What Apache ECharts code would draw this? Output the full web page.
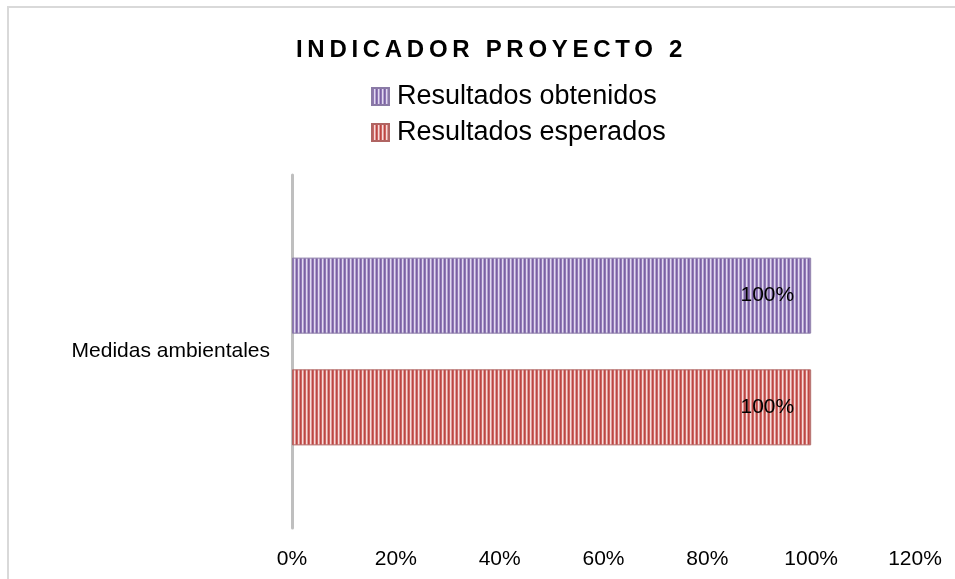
<!DOCTYPE html>
<html>
<head>
<meta charset="utf-8">
<script src="https://cdn.jsdelivr.net/npm/echarts@6/dist/echarts.min.js"></script>
<style>
  html, body { margin: 0; padding: 0; background: #fff; }
  #chart { width: 955px; height: 579px; }
</style>
</head>
<body>
<div id="chart"></div>
<script>
var titleText = "INDICADOR PROYECTO 2";
var categories = ["Medidas ambientales"];
var obtenidos = [1.0];
var esperados = [1.0];
var xTicks = ["0%", "20%", "40%", "60%", "80%", "100%", "120%"];

// the original title is letter-spaced; canvas can do that, echarts can't
var origFillText = CanvasRenderingContext2D.prototype.fillText;
CanvasRenderingContext2D.prototype.fillText = function (txt) {
  if (txt === titleText && "letterSpacing" in this) {
    var old = this.letterSpacing;
    this.letterSpacing = "4.7px";
    origFillText.apply(this, arguments);
    this.letterSpacing = old;
    return;
  }
  return origFillText.apply(this, arguments);
};

// vertical stripe fill like the excel pattern
function stripes(cols) {
  var c = document.createElement("canvas");
  c.width = cols.length;
  c.height = 4;
  var ctx = c.getContext("2d");
  cols.forEach(function (col, i) {
    ctx.fillStyle = col;
    ctx.fillRect(i, 0, 1, 4);
  });
  return { image: c, repeat: "repeat" };
}
var purpleFill = stripes(["#7a61a2", "#9079b6", "#e2daef", "#b3a1d0"]);
var redFill = stripes(["#bb4643", "#cd6764", "#f5dcdb", "#e09896"]);

var myChart = echarts.init(document.getElementById("chart"));
var font = "Liberation Sans";
var pct = function (v) { return Math.round(v * 100) + "%"; };

myChart.setOption({
  backgroundColor: "#fff",
  animation: false,
  title: {
    text: titleText,
    left: 291,
    top: 33,
    textStyle: { fontFamily: font, fontSize: 24, fontWeight: "bold", color: "#000" }
  },
  legend: {
    orient: "vertical",
    left: 371,
    top: 83,
    padding: 0,
    icon: "rect",
    itemWidth: 17,
    itemHeight: 17,
    itemGap: 9,
    data: ["Resultados obtenidos", "Resultados esperados"],
    textStyle: { fontFamily: font, fontSize: 27, lineHeight: 27, color: "#000", padding: [0, 0, 0, 3] }
  },
  graphic: [{
    type: "rect",
    shape: { x: 8, y: 7, width: 1000, height: 700 },
    style: { fill: "none", stroke: "#d9d9d9", lineWidth: 2 },
    silent: true
  }],
  grid: { left: 292, right: 40, top: 175, bottom: 51 },
  xAxis: {
    type: "value",
    min: 0,
    max: 1.2,
    interval: 0.2,
    axisLine: { show: false },
    axisTick: { show: false },
    splitLine: { show: false },
    axisLabel: {
      margin: 21,
      fontFamily: font,
      fontSize: 21,
      color: "#000",
      formatter: function (v) { return xTicks[Math.round(v / 0.2)]; }
    }
  },
  yAxis: {
    type: "category",
    data: categories,
    axisLine: { show: true, lineStyle: { color: "#bfbfbf", width: 3 } },
    axisTick: { show: false },
    axisLabel: { margin: 22, fontFamily: font, fontSize: 21, color: "#000" }
  },
  series: [
    {
      name: "Resultados obtenidos",
      type: "bar",
      data: obtenidos,
      barWidth: 76,
      barGap: "47%",
      itemStyle: { color: purpleFill, borderColor: "#8a7aa6", borderWidth: 1 },
      label: {
        show: true, position: "insideRight", distance: 17,
        fontFamily: font, fontSize: 21, color: "#000",
        formatter: function (p) { return pct(p.value); }
      }
    },
    {
      name: "Resultados esperados",
      type: "bar",
      data: esperados,
      barWidth: 76,
      barGap: "47%",
      itemStyle: { color: redFill, borderColor: "#b06462", borderWidth: 1 },
      label: {
        show: true, position: "insideRight", distance: 17,
        fontFamily: font, fontSize: 21, color: "#000",
        formatter: function (p) { return pct(p.value); }
      }
    }
  ]
});
</script>
</body>
</html>
